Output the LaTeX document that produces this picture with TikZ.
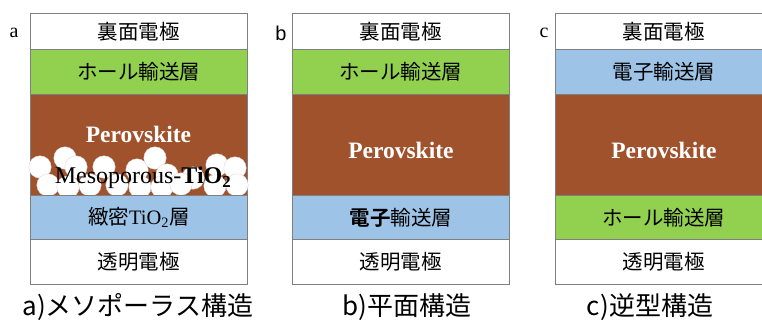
\documentclass[tikz,border=0pt]{standalone}
\usepackage{fontspec}
\setmainfont{Liberation Serif}
\newfontfamily\jp{Noto Sans CJK JP}
\newfontfamily\jpb{Noto Sans CJK JP Bold}
\newfontfamily\sans{Liberation Sans}
\definecolor{htl}{HTML}{92D050}
\definecolor{pero}{HTML}{A0522D}
\definecolor{etl}{HTML}{9DC3E6}
\definecolor{edge}{HTML}{7F7F7F}
\tikzset{
  layer/.style={draw=edge, line width=0.8pt, minimum width=217pt, inner sep=0pt, anchor=north west, font=\jp\fontsize{20.5}{20.5}\selectfont},
  perotext/.style={text=white, font=\bfseries\fontsize{23.5}{23.5}\selectfont},
  bead/.style={circle, fill=white, draw=gray!35, line width=0.3pt, minimum size=22.5pt, inner sep=0pt},
  tag/.style={font=\fontsize{20}{20}\selectfont},
  caption/.style={font=\jp\fontsize{26}{26}\selectfont}
}
\begin{document}
\begin{tikzpicture}[x=1pt,y=-1pt]
\useasboundingbox (0,0) rectangle (762,322);
% ---------- panel a ----------
\node[layer, fill=white, minimum height=36pt] (a1) at (30,13) {裏面電極};
\node[layer, fill=htl, minimum height=45pt] (a2) at (30,49) {ホール輸送層};
\node[layer, fill=pero, minimum height=101pt] (a3) at (30,94) {};
\foreach \p/\q [count=\i] in {40/167,65/158,76/167,104/167,137/170,155/158,167/175,193/178,217/165,235/168,48/185,68/187,90/185,117/185,140/187,162/187,181/184,215/186,237/185}
  \node[bead] (bead\i) at (\p,\q) {};
\node[perotext] (a3t) at (138.5,134) {Perovskite};
\node[font=\fontsize{24}{24}\selectfont] (a3m) at (143,178) {Mesoporous-\textbf{TiO\textsubscript{2}}};
\node[layer, fill=etl, minimum height=44pt] (a4) at (30,195) {緻密{\rmfamily TiO\textsubscript{2}}層};
\node[layer, fill=white, minimum height=45pt] (a5) at (30,239) {透明電極};
\node[tag] (la) at (14,33) {a};
\node[caption] (ca) at (138,307) {a)メソポーラス構造};
% ---------- panel b ----------
\node[layer, fill=white, minimum height=36pt] (b1) at (292,13) {裏面電極};
\node[layer, fill=htl, minimum height=45pt] (b2) at (292,49) {ホール輸送層};
\node[layer, fill=pero, minimum height=101pt] (b3) at (292,94) {};
\node[perotext] (b3t) at ([yshift=-6pt]b3.center) {Perovskite};
\node[layer, fill=etl, minimum height=44pt] (b4) at (292,195) {{\jpb 電子}輸送層};
\node[layer, fill=white, minimum height=45pt] (b5) at (292,239) {透明電極};
\node[tag, font=\sans\fontsize{20}{20}\selectfont] (lb) at (281,33) {b};
\node[caption] (cb) at (407,307) {b)平面構造};
% ---------- panel c ----------
\node[layer, fill=white, minimum height=36pt] (c1) at (555,13) {裏面電極};
\node[layer, fill=etl, minimum height=45pt] (c2) at (555,49) {電子輸送層};
\node[layer, fill=pero, minimum height=101pt] (c3) at (555,94) {};
\node[perotext] (c3t) at ([yshift=-6pt]c3.center) {Perovskite};
\node[layer, fill=htl, minimum height=44pt] (c4) at (555,195) {ホール輸送層};
\node[layer, fill=white, minimum height=45pt] (c5) at (555,239) {透明電極};
\node[tag] (lc) at (544,33) {c};
\node[caption] (cc) at (650,307) {c)逆型構造};
\end{tikzpicture}
\end{document}
